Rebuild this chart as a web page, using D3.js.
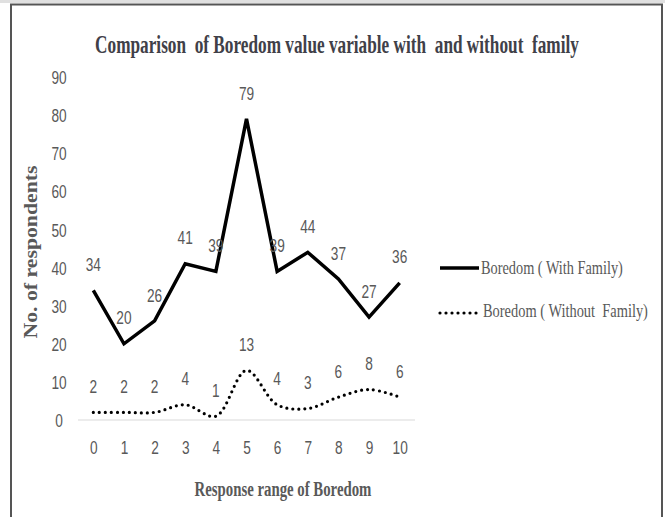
<!DOCTYPE html>
<html>
<head>
<meta charset="utf-8">
<script src="https://cdn.jsdelivr.net/npm/d3@7/dist/d3.min.js"></script>
<style>
body { margin: 0; background: #fff; }
svg { display: block; }
text { fill: #595959; white-space: pre; }
</style>
</head>
<body>
<div id="chart"></div>
<script>
var categories = [0, 1, 2, 3, 4, 5, 6, 7, 8, 9, 10];
var withFamily = [34, 20, 26, 41, 39, 79, 39, 44, 37, 27, 36];
var withoutFamily = [2, 2, 2, 4, 1, 13, 4, 3, 6, 8, 6];
var yTicks = [0, 10, 20, 30, 40, 50, 60, 70, 80, 90];
var seriesNames = ["Boredom ( With Family)", "Boredom ( Without  Family)"];

var W = 665, H = 517,
    serif = "'Liberation Serif', 'Times New Roman', serif",
    sans = "'Liberation Sans', Arial, sans-serif",
    numSize = 19, squeeze = 0.72;

var svg = d3.select("#chart").append("svg")
    .attr("width", W)
    .attr("height", H);

// squeeze a text horizontally so it spans the given width
function fit(sel, w, anchorX, y, rot) {
    var n = sel.node().getComputedTextLength(),
        s = w / n;
    sel.attr("x", 0).attr("y", 0)
        .attr("transform", "translate(" + anchorX + "," + y + ")" + (rot ? " rotate(" + rot + ")" : "") + " scale(" + s + ",1)");
    return sel;
}

// frame like the cropped screenshot
svg.append("rect").attr("x", 0).attr("y", 0).attr("width", W).attr("height", 3).attr("fill", "#e0e0e0");
svg.append("line").attr("x1", 10).attr("x2", 663).attr("y1", 4.5).attr("y2", 4.5)
    .attr("stroke", "#555").attr("stroke-width", 2);
svg.append("line").attr("x1", 11).attr("x2", 11).attr("y1", 4).attr("y2", H)
    .attr("stroke", "#555").attr("stroke-width", 2);
svg.append("line").attr("x1", 662).attr("x2", 662).attr("y1", 4).attr("y2", H)
    .attr("stroke", "#555").attr("stroke-width", 2);

var x = d3.scalePoint()
    .domain(categories)
    .range([78, 415])
    .padding(0.5);

var y = d3.scaleLinear()
    .domain([0, 90])
    .range([420, 77]);

// title
fit(svg.append("text")
    .attr("text-anchor", "middle")
    .attr("font-family", serif)
    .attr("font-weight", "bold")
    .attr("font-size", 25)
    .style("fill", "#404048")
    .text("Comparison  of Boredom value variable with  and without  family"), 484, 337, 53);

// y axis
var yAxis = svg.append("g")
    .attr("transform", "translate(78,0)")
    .call(d3.axisLeft(y).tickValues(yTicks).tickSize(0));
yAxis.select(".domain").remove();
yAxis.selectAll("text")
    .attr("x", 0).attr("dy", "0.35em")
    .attr("text-anchor", "middle")
    .attr("font-family", sans)
    .attr("font-size", numSize)
    .attr("transform", "translate(-19,0) scale(" + squeeze + ",1)");

// x axis
var xAxis = svg.append("g")
    .attr("transform", "translate(0,420)")
    .call(d3.axisBottom(x).tickSize(0).tickPadding(0));
xAxis.select(".domain").remove();
xAxis.selectAll("text")
    .attr("x", 0).attr("y", 0).attr("dy", "0.35em")
    .attr("font-family", sans)
    .attr("font-size", numSize)
    .attr("transform", "translate(0,27) scale(" + squeeze + ",1)");

svg.append("line")
    .attr("x1", x.range()[0]).attr("x2", x.range()[1])
    .attr("y1", y(0)).attr("y2", y(0))
    .attr("stroke", "#d9d9d9").attr("stroke-width", 1);

// axis titles
fit(svg.append("text")
    .attr("text-anchor", "middle")
    .attr("font-family", serif)
    .attr("font-weight", "bold")
    .attr("font-size", 18)
    .text("No. of respondents"), 173, 37, 252, -90);

fit(svg.append("text")
    .attr("text-anchor", "middle")
    .attr("font-family", serif)
    .attr("font-weight", "bold")
    .attr("font-size", 20)
    .text("Response range of Boredom"), 177, 283, 496);

// lines
var solidLine = d3.line()
    .x(function (d, i) { return x(categories[i]); })
    .y(function (d) { return y(d); });

var smoothLine = d3.line()
    .x(function (d, i) { return x(categories[i]); })
    .y(function (d) { return y(d); })
    .curve(d3.curveCatmullRom.alpha(0.5));

svg.append("path")
    .attr("d", solidLine(withFamily))
    .attr("fill", "none")
    .attr("stroke", "#000")
    .attr("stroke-width", 3.5);

svg.append("path")
    .attr("d", smoothLine(withoutFamily))
    .attr("fill", "none")
    .attr("stroke", "#000")
    .attr("stroke-width", 3.2)
    .attr("stroke-linecap", "round")
    .attr("stroke-dasharray", "0 6");

// data labels
[withFamily, withoutFamily].forEach(function (vals) {
    svg.append("g").selectAll("text")
        .data(vals)
        .enter()
        .append("text")
        .attr("text-anchor", "middle")
        .attr("dy", "0.35em")
        .attr("font-family", sans)
        .attr("font-size", numSize)
        .attr("transform", function (d, i) {
            return "translate(" + x(categories[i]) + "," + (y(d) - 26) + ") scale(" + squeeze + ",1)";
        })
        .text(function (d) { return d; });
});

// legend
var legend = svg.append("g")
    .selectAll("g")
    .data(seriesNames)
    .enter()
    .append("g")
    .attr("transform", function (d, i) { return "translate(440," + (268 + i * 43) + ")"; });

legend.append("line")
    .attr("x1", 0).attr("x2", 39)
    .attr("y1", function (d, i) { return i ? 2 : 0; })
    .attr("y2", function (d, i) { return i ? 2 : 0; })
    .attr("stroke", "#000")
    .attr("stroke-width", function (d, i) { return i ? 3.2 : 3.5; })
    .attr("stroke-linecap", function (d, i) { return i ? "round" : "butt"; })
    .attr("stroke-dasharray", function (d, i) { return i ? "0 6" : null; });

legend.append("text")
    .attr("font-family", serif)
    .attr("font-size", 19)
    .text(function (d) { return d; })
    .each(function (d, i) {
        fit(d3.select(this), i ? 165 : 142, i ? 43 : 41, 6);
    });
</script>
</body>
</html>
